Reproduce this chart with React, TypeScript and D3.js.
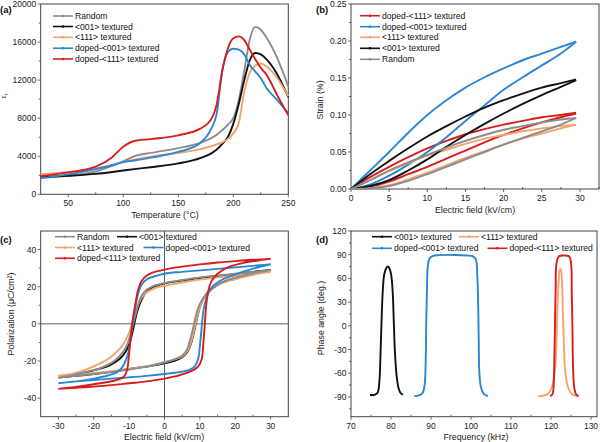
import React from "react";
import * as d3 from "d3";

type Pt = [number, number];

const C = {
  random: "#8c8c8c",
  t001: "#111111",
  t111: "#f5a36c",
  d001: "#2b86d3",
  d111: "#d81c1c",
};

// (a) permittivity vs temperature
const tempA = [25, 50, 75, 90, 100, 110, 125, 150, 170, 180, 185, 190, 195, 200, 205, 210, 215, 220, 225, 230, 240, 250];
const epsRandom = [1750, 1950, 2400, 3000, 3450, 4000, 4350, 4850, 5400, 5900, 6250, 6750, 7300, 8000, 9900, 13000, 16300, 17600, 17300, 16500, 14300, 11300];
const epsT001 = [1800, 1950, 2150, 2350, 2500, 2650, 2850, 3250, 3800, 4300, 4700, 5300, 6000, 7400, 9500, 12000, 14100, 14850, 14700, 14200, 12600, 10200];
const epsT111 = [2100, 2350, 2700, 3100, 3400, 3650, 3950, 4350, 4750, 5050, 5250, 5450, 5800, 6400, 7500, 10800, 12800, 13500, 13750, 13450, 12200, 10300];
const epsD001 = [1700, 2100, 2650, 3050, 3400, 3550, 3850, 4450, 5400, 6900, 8500, 13000, 14900, 15300, 15200, 14700, 13600, 12900, 12200, 11200, 9900, 8500];
const epsD111 = [1900, 2300, 2900, 3900, 5000, 5600, 5800, 6200, 6900, 7900, 9500, 13000, 15300, 16400, 16600, 16200, 15200, 14200, 13300, 12600, 10400, 8300];

// (b) strain vs field, rising and falling branches
const fieldB = [0, 2.5, 5, 7.5, 10, 12.5, 15, 17.5, 20, 22.5, 25, 27.5, 29.5];
const d111Rise = [0, 0.003, 0.01, 0.02, 0.03, 0.041, 0.052, 0.063, 0.073, 0.082, 0.09, 0.097, 0.102];
const d111Fall = [0, 0.016, 0.03, 0.043, 0.055, 0.065, 0.074, 0.081, 0.087, 0.092, 0.097, 0.1, 0.103];
const d001Rise = [0, 0.006, 0.018, 0.033, 0.05, 0.07, 0.092, 0.113, 0.134, 0.151, 0.167, 0.183, 0.199];
const d001Fall = [0, 0.025, 0.05, 0.076, 0.1, 0.12, 0.137, 0.151, 0.163, 0.174, 0.183, 0.192, 0.199];
const t111Rise = [0, 0.001, 0.005, 0.013, 0.022, 0.032, 0.042, 0.051, 0.06, 0.068, 0.075, 0.082, 0.087];
const t111Fall = [0, 0.012, 0.024, 0.035, 0.045, 0.053, 0.061, 0.068, 0.073, 0.078, 0.082, 0.085, 0.087];
const t001Rise = [0, 0.004, 0.012, 0.025, 0.04, 0.057, 0.073, 0.088, 0.102, 0.115, 0.127, 0.138, 0.147];
const t001Fall = [0, 0.02, 0.038, 0.055, 0.071, 0.085, 0.098, 0.11, 0.12, 0.129, 0.137, 0.143, 0.148];
const randomRise = [0, 0.001, 0.004, 0.011, 0.02, 0.03, 0.04, 0.05, 0.06, 0.069, 0.078, 0.087, 0.096];
const randomFall = [0, 0.012, 0.025, 0.036, 0.046, 0.056, 0.065, 0.073, 0.08, 0.085, 0.09, 0.094, 0.096];

// (c) P-E loops, [E, P], falling branch then rising branch
const loopRandom: Pt[] = [
  [30, 29], [25, 28], [20, 27], [15, 26], [10, 25], [5, 23.6], [0, 22], [-3, 20.5], [-5, 18.5], [-6.5, 15], [-7.5, 10], [-8.3, 4], [-9, -1], [-9.8, -7], [-11, -13], [-12.5, -17], [-15, -21], [-18, -23.7], [-22, -25.8], [-26, -27.6], [-30, -29],
  [-25, -28], [-20, -27], [-15, -26], [-10, -24.6], [-5, -23], [0, -20.8], [3, -19], [5, -17], [6.3, -14], [7.2, -9], [8, -3], [8.7, 3], [9.5, 8.5], [10.8, 13.5], [12.5, 17.5], [15, 21], [18, 23.7], [22, 25.8], [26, 27.6], [30, 29],
];
const loopT001: Pt[] = [
  [30, 29], [25, 28], [20, 26.8], [15, 25.8], [10, 24.7], [5, 23.3], [0, 21.8], [-3, 20], [-5, 17.5], [-6.5, 13], [-7.5, 8], [-8.3, 2], [-9, -4], [-9.8, -10], [-11, -15], [-12.5, -18.5], [-15, -21.8], [-18, -24], [-22, -26], [-26, -27.8], [-30, -29],
  [-25, -28], [-20, -27], [-15, -25.8], [-10, -24.3], [-5, -23], [0, -21.3], [3, -19.8], [5, -18], [6.5, -15], [7.6, -10], [8.5, -3], [9.2, 3], [10, 9], [11, 13.5], [12.5, 17.5], [15, 21], [18, 23.5], [22, 25.8], [26, 27.8], [30, 29],
];
const loopT111: Pt[] = [
  [30, 28], [25, 27.2], [20, 26], [15, 25], [10, 23.8], [5, 22.3], [0, 20.5], [-3, 19], [-5, 17], [-6.5, 14], [-7.5, 10], [-8.5, 4], [-9.5, -2], [-10.5, -7], [-12, -12], [-14, -16], [-16, -19], [-19, -22], [-22, -24.5], [-26, -26.8], [-30, -28],
  [-25, -27.3], [-20, -26.5], [-15, -25.5], [-10, -24.3], [-5, -22.8], [0, -20.5], [3, -19], [5, -17.5], [6.5, -14.5], [7.5, -10], [8.3, -4], [9, 2], [10, 9], [11.5, 15], [13, 18], [15, 20.8], [18, 23], [22, 25], [26, 26.8], [30, 28],
];
const loopD001: Pt[] = [
  [30, 32], [25, 31.2], [20, 30.4], [15, 29.6], [10, 28.8], [5, 28], [0, 27], [-3, 25.5], [-5, 24], [-6.5, 21], [-7.5, 16], [-8.3, 8], [-9, 0], [-9.6, -8], [-10.3, -16], [-11.5, -22], [-13, -25.5], [-16, -27.8], [-20, -29.5], [-25, -31], [-30, -32],
  [-25, -31], [-20, -30.3], [-15, -29.5], [-10, -28.8], [-5, -28], [0, -27], [3, -26.3], [5, -25.8], [7, -24.8], [8.5, -23], [9.5, -19], [10.1, -10], [10.6, 0], [11, 7], [11.7, 13], [12.5, 17], [13.8, 20.5], [16, 23.5], [19.5, 26.2], [25, 29.7], [30, 32],
];
const loopD111: Pt[] = [
  [30, 35], [25, 34.5], [20, 33.8], [15, 33], [10, 32], [5, 30.8], [0, 29.2], [-3, 27.8], [-5, 26], [-6.5, 23], [-7.5, 18], [-8.3, 10], [-9, 2], [-9.6, -8], [-10.1, -18], [-10.6, -25], [-11.5, -28.5], [-14, -30.5], [-20, -32.5], [-25, -34], [-30, -35],
  [-25, -34.5], [-20, -33.8], [-15, -33], [-10, -32], [-5, -31], [0, -29.5], [3, -28.3], [5, -27.2], [7.5, -25.5], [9.5, -23], [10.5, -19], [11, -10], [11.4, 0], [11.8, 10], [12.4, 18], [13.3, 23], [15, 27], [18, 30.5], [22, 32.7], [26, 34], [30, 35],
];

// (d) phase angle vs frequency, [kHz, deg]
const phaseT001: Pt[] = [[74.75, -87.5], [76, -87], [76.7, -84], [77.1, -70], [77.35, -40], [77.6, 0], [77.9, 40], [78.3, 65], [78.8, 73], [79.2, 75], [79.6, 73], [80, 66], [80.4, 45], [80.7, 5], [81, -35], [81.4, -63], [81.9, -79], [82.4, -85], [83, -87]];
const phaseT111: Pt[] = [[116.8, -89], [118, -88.5], [119.2, -86], [120.2, -78], [120.9, -60], [121.3, -30], [121.6, 20], [121.9, 55], [122.2, 71], [122.4, 72], [122.7, 60], [122.95, 20], [123.2, -20], [123.5, -55], [124, -73], [124.6, -82], [125.4, -87], [127.1, -89]];
const phaseD001: Pt[] = [[85.8, -89], [87, -88], [87.9, -85], [88.4, -75], [88.65, -50], [88.8, 0], [89, 50], [89.2, 75], [89.6, 85], [90.5, 88.5], [92, 89.5], [96, 89.7], [99, 89], [100.5, 88], [101.2, 84], [101.6, 60], [101.8, 25], [101.95, -25], [102.1, -60], [102.5, -78], [103.2, -86], [104.2, -89]];
const phaseD111: Pt[] = [[119.8, -89], [120.4, -86], [120.7, -70], [120.85, -40], [121, 0], [121.15, 45], [121.4, 80], [122, 88], [123, 89], [124.5, 88], [125, 80], [125.2, 40], [125.35, 0], [125.5, -50], [125.8, -78], [126.2, -86], [126.8, -89]];

const FONT = "'Liberation Sans', Arial, sans-serif";

type Scale = d3.ScaleLinear<number, number>;

interface AxesProps {
  x: Scale;
  y: Scale;
  xTicks: number[];
  yTicks: number[];
  xMinor: number[];
  yMinor: number[];
  yFmt?: (v: number) => string;
}

const Axes = ({ x, y, xTicks, yTicks, xMinor, yMinor, yFmt }: AxesProps) => {
  const [x0, x1] = x.range();
  const [y0, y1] = y.range();
  const fmt = yFmt || ((v: number) => String(v));
  return (
    <g fontFamily={FONT} fontSize={8.5} fill="#222">
      <rect x={x0} y={y1} width={x1 - x0} height={y0 - y1} fill="none" stroke="#444" strokeWidth={1} />
      {xMinor.map((t) => (
        <line key={"xm" + t} x1={x(t)} x2={x(t)} y1={y0} y2={y0 - 2} stroke="#444" strokeWidth={0.8} />
      ))}
      {yMinor.map((t) => (
        <line key={"ym" + t} x1={x0} x2={x0 - 2} y1={y(t)} y2={y(t)} stroke="#444" strokeWidth={0.8} />
      ))}
      {xTicks.map((t) => (
        <g key={"x" + t}>
          <line x1={x(t)} x2={x(t)} y1={y0} y2={y0 + 3} stroke="#444" strokeWidth={0.8} />
          <text x={x(t)} y={y0 + 12} textAnchor="middle">{String(t)}</text>
        </g>
      ))}
      {yTicks.map((t) => (
        <g key={"y" + t}>
          <line x1={x0} x2={x0 - 3} y1={y(t)} y2={y(t)} stroke="#444" strokeWidth={0.8} />
          <text x={x0 - 4.5} y={y(t) + 3} textAnchor="end">{fmt(t)}</text>
        </g>
      ))}
    </g>
  );
};

interface LegendItem {
  label: string;
  color: string;
  x: number;
  y: number;
}

const Legend = ({ items, len }: { items: LegendItem[]; len: number }) => (
  <g fontFamily={FONT} fontSize={8.6} fill="#111">
    {items.map((it) => (
      <g key={it.label}>
        <line x1={it.x} x2={it.x + len} y1={it.y} y2={it.y} stroke={it.color} strokeWidth={1.6} />
        <circle cx={it.x + len / 2} cy={it.y} r={1.3} fill={it.color} />
        <text x={it.x + len + 2} y={it.y + 3}>{it.label}</text>
      </g>
    ))}
  </g>
);

const range = (a: number, b: number, s: number) => d3.range(a, b + s / 2, s);

export default function App() {
  // scales
  const xA = d3.scaleLinear().domain([25, 250]).range([40.7, 288.3]);
  const yA = d3.scaleLinear().domain([0, 20000]).range([194.3, 4]);
  const xB = d3.scaleLinear().domain([0, 32.5]).range([351, 599]);
  const yB = d3.scaleLinear().domain([0, 0.25]).range([189, 4]);
  const xC = d3.scaleLinear().domain([-35, 35]).range([40.7, 288.3]);
  const yC = d3.scaleLinear().domain([-50, 50]).range([416.7, 231]);
  const xD = d3.scaleLinear().domain([70, 131.5]).range([351, 597]);
  const yD = d3.scaleLinear().domain([-115, 120]).range([416.7, 231]);

  const lineA = d3
    .line<number>()
    .x((_, i) => xA(tempA[i]))
    .y((d) => yA(d))
    .curve(d3.curveMonotoneX);

  const lineB = d3
    .line<number>()
    .x((_, i) => xB(fieldB[i]))
    .y((d) => yB(d))
    .curve(d3.curveMonotoneX);

  const lineC = d3
    .line<Pt>()
    .x((d) => xC(d[0]))
    .y((d) => yC(d[1]))
    .curve(d3.curveCatmullRom.alpha(0.5));

  const lineD = d3
    .line<Pt>()
    .x((d) => xD(d[0]))
    .y((d) => yD(d[1]))
    .curve(d3.curveCatmullRom.alpha(0.5));

  const seriesA = [
    { v: epsRandom, c: C.random },
    { v: epsT001, c: C.t001 },
    { v: epsT111, c: C.t111 },
    { v: epsD001, c: C.d001 },
    { v: epsD111, c: C.d111 },
  ];
  const seriesB = [
    { r: d111Rise, f: d111Fall, c: C.d111 },
    { r: d001Rise, f: d001Fall, c: C.d001 },
    { r: t111Rise, f: t111Fall, c: C.t111 },
    { r: t001Rise, f: t001Fall, c: C.t001 },
    { r: randomRise, f: randomFall, c: C.random },
  ];
  const seriesC = [
    { v: loopT001, c: C.t001 },
    { v: loopT111, c: C.t111 },
    { v: loopRandom, c: C.random },
    { v: loopD001, c: C.d001 },
    { v: loopD111, c: C.d111 },
  ];
  const seriesD = [
    { v: phaseT001, c: C.t001 },
    { v: phaseD001, c: C.d001 },
    { v: phaseT111, c: C.t111 },
    { v: phaseD111, c: C.d111 },
  ];

  const title = { fontFamily: FONT, fontSize: 8.8, fill: "#222" };
  const panel = { fontFamily: FONT, fontSize: 9.5, fontWeight: 700, fill: "#111" };

  return (
    <svg width={600} height={442} style={{ position: "absolute", left: 0, top: 0, background: "#fff" }}>
      {/* (a) */}
      <Axes x={xA} y={yA} xTicks={range(50, 250, 50)} xMinor={[75, 125, 175, 225]} yTicks={range(0, 20000, 4000)} yMinor={range(2000, 18000, 4000)} />
      <g fill="none" strokeWidth={1.9}>
        {seriesA.map((s, i) => (
          <path key={i} d={lineA(s.v) || ""} stroke={s.c} />
        ))}
      </g>
      <Legend
        len={20}
        items={[
          { label: "Random", color: C.random, x: 53, y: 16 },
          { label: "<001> textured", color: C.t001, x: 53, y: 26.5 },
          { label: "<111> textured", color: C.t111, x: 53, y: 37.3 },
          { label: "doped-<001> textured", color: C.d001, x: 53, y: 48.2 },
          { label: "doped-<111> textured", color: C.d111, x: 53, y: 59 },
        ]}
      />
      <text x={0} y={12.5} {...panel}>(a)</text>
      <text x={165} y={218} textAnchor="middle" {...title}>Temperature (°C)</text>
      <text transform="translate(6,96) rotate(-90)" textAnchor="middle" fontFamily={FONT} fontSize={6.5} fill="#333">
        ε<tspan fontSize={4.5} dy={1.5}>r</tspan>
      </text>

      {/* (b) */}
      <Axes x={xB} y={yB} xTicks={range(0, 30, 5)} xMinor={range(2.5, 32.5, 5)} yTicks={range(0, 0.25, 0.05)} yMinor={range(0.025, 0.225, 0.05)} yFmt={d3.format(".2f")} />
      <g fill="none" strokeWidth={1.9}>
        {seriesB.map((s, i) => (
          <g key={i}>
            <path d={lineB(s.r) || ""} stroke={s.c} />
            <path d={lineB(s.f) || ""} stroke={s.c} />
          </g>
        ))}
      </g>
      <Legend
        len={20}
        items={[
          { label: "doped-<111> textured", color: C.d111, x: 360, y: 15.7 },
          { label: "doped-<001> textured", color: C.d001, x: 360, y: 26.7 },
          { label: "<111> textured", color: C.t111, x: 360, y: 37.3 },
          { label: "<001> textured", color: C.t001, x: 360, y: 48.3 },
          { label: "Random", color: C.random, x: 360, y: 59.3 },
        ]}
      />
      <text x={316} y={12.5} {...panel}>(b)</text>
      <text x={475} y={213} textAnchor="middle" {...title}>Electric field (kV/cm)</text>
      <text transform="translate(323,100) rotate(-90)" textAnchor="middle" {...title}>Strain (%)</text>

      {/* (c) */}
      <Axes x={xC} y={yC} xTicks={range(-30, 30, 10)} xMinor={range(-25, 25, 10)} yTicks={range(-40, 40, 20)} yMinor={range(-30, 30, 20)} />
      <line x1={xC(-35)} x2={xC(35)} y1={yC(0)} y2={yC(0)} stroke="#333" strokeWidth={0.8} />
      <line x1={xC(0)} x2={xC(0)} y1={yC(50)} y2={yC(-50)} stroke="#333" strokeWidth={0.8} />
      <g fill="none" strokeWidth={1.9}>
        {seriesC.map((s, i) => (
          <path key={i} d={lineC(s.v) || ""} stroke={s.c} />
        ))}
      </g>
      <Legend
        len={20}
        items={[
          { label: "Random", color: C.random, x: 55, y: 236.7 },
          { label: "<001> textured", color: C.t001, x: 117, y: 236.7 },
          { label: "<111> textured", color: C.t111, x: 55, y: 247.5 },
          { label: "doped-<001> textured", color: C.d001, x: 143.5, y: 247.5 },
          { label: "doped-<111> textured", color: C.d111, x: 55, y: 258.3 },
        ]}
      />
      <text x={0} y={243} {...panel}>(c)</text>
      <text x={164} y={440} textAnchor="middle" {...title}>Electric field (kV/cm)</text>
      <text transform="translate(14,314) rotate(-90)" textAnchor="middle" {...title}>Polarization (μC/cm²)</text>

      {/* (d) */}
      <Axes x={xD} y={yD} xTicks={range(70, 130, 10)} xMinor={range(75, 125, 10)} yTicks={range(-90, 120, 30)} yMinor={range(-105, 105, 30)} />
      <g fill="none" strokeWidth={1.9}>
        {seriesD.map((s, i) => (
          <path key={i} d={lineD(s.v) || ""} stroke={s.c} />
        ))}
      </g>
      <Legend
        len={20}
        items={[
          { label: "<001> textured", color: C.t001, x: 372, y: 236.7 },
          { label: "<111> textured", color: C.t111, x: 459, y: 236.7 },
          { label: "doped-<001> textured", color: C.d001, x: 372, y: 248.3 },
          { label: "doped-<111> textured", color: C.d111, x: 487.5, y: 248.3 },
        ]}
      />
      <text x={316} y={243} {...panel}>(d)</text>
      <text x={476} y={440} textAnchor="middle" {...title}>Frequency (kHz)</text>
      <text transform="translate(324,318) rotate(-90)" textAnchor="middle" {...title}>Phase angle (deg.)</text>
    </svg>
  );
}
